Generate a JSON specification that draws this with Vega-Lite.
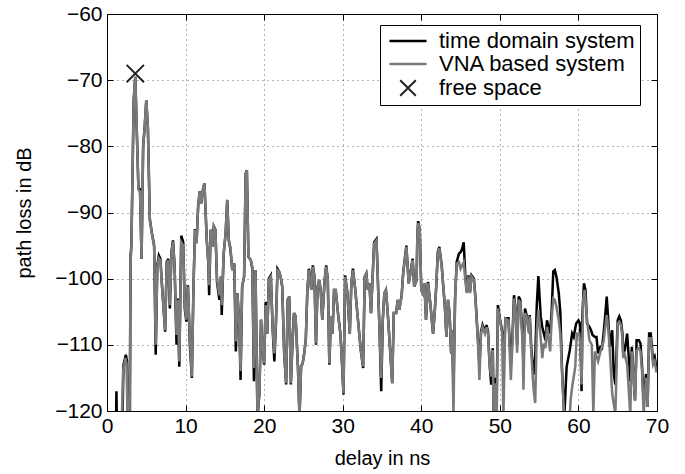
{
  "$schema": "https://vega.github.io/schema/vega-lite/v6.json",
  "width": 550,
  "height": 397,
  "autosize": {"type": "none"},
  "padding": {"left": 107, "top": 14, "right": 28, "bottom": 63},
  "config": {
    "view": {"stroke": "#000", "strokeWidth": 1},
    "font": "Liberation Sans",
    "axis": {"labelColor": "#000", "titleColor": "#000", "tickColor": "#000", "labelFont": "Liberation Sans", "titleFont": "Liberation Sans"}
  },
  "datasets": {
    "td": [
      {"t":1.1,"pl":-125},{"t":1.2,"pl":-117},{"t":1.3,"pl":-125},{"t":1.9,"pl":-125},{"t":2.1,"pl":-113},{"t":2.4,"pl":-111.5},{"t":2.55,"pl":-112.5},{"t":2.7,"pl":-125},{"t":2.9,"pl":-125},{"t":3.0,"pl":-96.5},
      {"t":3.1,"pl":-95},{"t":3.4,"pl":-73},{"t":3.6,"pl":-69.5},{"t":3.8,"pl":-78},{"t":4.0,"pl":-86.3},{"t":4.2,"pl":-86.5},{"t":4.4,"pl":-97},{"t":4.6,"pl":-80},{"t":4.8,"pl":-77},{"t":5.0,"pl":-73},{"t":5.2,"pl":-77},{"t":5.45,"pl":-91},{"t":5.7,"pl":-93},{"t":6.0,"pl":-95},{"t":6.2,"pl":-111.5},{"t":6.4,"pl":-98},{"t":6.6,"pl":-96.5},{"t":6.8,"pl":-97},{"t":7.0,"pl":-101},{"t":7.4,"pl":-108},{"t":7.6,"pl":-97.5},{"t":7.8,"pl":-97},{"t":8.0,"pl":-104.5},{"t":8.2,"pl":-96},{"t":8.4,"pl":-94.2},{"t":8.6,"pl":-98},{"t":8.85,"pl":-110},{"t":9.0,"pl":-103},{"t":9.2,"pl":-113.3},{"t":9.45,"pl":-93.5},{"t":9.7,"pl":-94.5},{"t":9.9,"pl":-104.5},
      {"t":10.1,"pl":-106.5},{"t":10.3,"pl":-101},{"t":10.55,"pl":-110},{"t":10.8,"pl":-115},{"t":11.0,"pl":-101.5},{"t":11.2,"pl":-92.5},{"t":11.4,"pl":-94.5},{"t":11.6,"pl":-89},{"t":11.8,"pl":-86.8},{"t":12.0,"pl":-88.6},{"t":12.2,"pl":-86.6},{"t":12.4,"pl":-85.6},{"t":12.7,"pl":-94.2},{"t":12.9,"pl":-97.7},{"t":13.0,"pl":-102.5},{"t":13.2,"pl":-92.6},{"t":13.4,"pl":-95.2},{"t":13.6,"pl":-92.1},{"t":13.8,"pl":-92.6},{"t":14.0,"pl":-100.5},{"t":14.3,"pl":-103.2},{"t":14.5,"pl":-99.7},{"t":14.6,"pl":-105.5},{"t":14.85,"pl":-96.2},{"t":15.1,"pl":-93.1},{"t":15.3,"pl":-88.1},{"t":15.5,"pl":-94.2},{"t":15.7,"pl":-95.5},{"t":15.95,"pl":-98.7},{"t":16.2,"pl":-97.7},{"t":16.4,"pl":-111},{"t":16.6,"pl":-102.2},{"t":16.85,"pl":-107.3},{"t":17.0,"pl":-115.3},{"t":17.2,"pl":-101.2},{"t":17.45,"pl":-99.7},{"t":17.65,"pl":-84.1},{"t":17.8,"pl":-83.6},{"t":18.0,"pl":-96.7},{"t":18.3,"pl":-97.2},{"t":18.5,"pl":-98.5},{"t":18.7,"pl":-115.5},{"t":18.9,"pl":-98.7},{"t":19.15,"pl":-121},{"t":19.4,"pl":-117.3},{"t":19.6,"pl":-106.2},{"t":19.8,"pl":-110.5},
      {"t":20.0,"pl":-113},{"t":20.2,"pl":-103.5},{"t":20.4,"pl":-108.3},{"t":20.6,"pl":-100},{"t":20.85,"pl":-99.5},{"t":21.1,"pl":-108},{"t":21.3,"pl":-112.5},{"t":21.5,"pl":-106.8},{"t":21.7,"pl":-98.5},{"t":21.9,"pl":-98.9},{"t":22.1,"pl":-99.7},{"t":22.3,"pl":-101.2},{"t":22.55,"pl":-111.3},{"t":22.8,"pl":-116},{"t":23.0,"pl":-103.2},{"t":23.2,"pl":-102.7},{"t":23.4,"pl":-116},{"t":23.6,"pl":-109.8},{"t":23.8,"pl":-105.2},{"t":24.0,"pl":-105.7},{"t":24.3,"pl":-113.3},{"t":24.5,"pl":-121},{"t":24.7,"pl":-113.3},{"t":24.9,"pl":-112.8},{"t":25.1,"pl":-111.3},{"t":25.3,"pl":-109.3},{"t":25.5,"pl":-101.7},{"t":25.7,"pl":-98.5},{"t":26.0,"pl":-101.7},{"t":26.2,"pl":-98},{"t":26.4,"pl":-99.7},{"t":26.6,"pl":-110},{"t":26.8,"pl":-101.2},{"t":27.0,"pl":-100.2},{"t":27.2,"pl":-101.7},{"t":27.4,"pl":-106.2},{"t":27.7,"pl":-100.2},{"t":27.9,"pl":-98},{"t":28.1,"pl":-100.2},{"t":28.3,"pl":-113},{"t":28.5,"pl":-105.7},{"t":28.7,"pl":-108.3},{"t":28.9,"pl":-101.7},{"t":29.1,"pl":-101.7},{"t":29.4,"pl":-105.2},{"t":29.7,"pl":-108.3},{"t":29.85,"pl":-111.3},
      {"t":30.1,"pl":-117.5},{"t":30.3,"pl":-99.5},{"t":30.6,"pl":-102.2},{"t":30.9,"pl":-108.3},{"t":31.1,"pl":-100.7},{"t":31.3,"pl":-98.5},{"t":31.6,"pl":-101.7},{"t":31.9,"pl":-105.7},{"t":32.3,"pl":-110.8},{"t":32.6,"pl":-113.5},{"t":32.8,"pl":-99.7},{"t":33.0,"pl":-99.2},{"t":33.2,"pl":-101.7},{"t":33.4,"pl":-100.7},{"t":33.6,"pl":-105.2},{"t":34.0,"pl":-94.5},{"t":34.3,"pl":-94},{"t":34.7,"pl":-108.3},{"t":34.9,"pl":-117},{"t":35.1,"pl":-106.2},{"t":35.3,"pl":-102.2},{"t":35.5,"pl":-101.7},{"t":35.7,"pl":-104.7},{"t":35.9,"pl":-108.3},{"t":36.3,"pl":-115.8},{"t":36.5,"pl":-105.2},{"t":36.8,"pl":-105.2},{"t":37.0,"pl":-103.2},{"t":37.2,"pl":-104.7},{"t":37.5,"pl":-102.5},{"t":37.7,"pl":-99},{"t":37.9,"pl":-97},{"t":38.1,"pl":-95},{"t":38.4,"pl":-100.7},{"t":38.7,"pl":-98.5},{"t":38.9,"pl":-97},{"t":39.1,"pl":-101.2},{"t":39.4,"pl":-100.2},{"t":39.5,"pl":-93.5},{"t":39.6,"pl":-91.3},{"t":39.8,"pl":-92.6},
      {"t":40.0,"pl":-101.7},{"t":40.2,"pl":-102.2},{"t":40.4,"pl":-100.7},{"t":40.6,"pl":-106.2},{"t":40.85,"pl":-100.5},{"t":41.1,"pl":-103.2},{"t":41.3,"pl":-105.7},{"t":41.5,"pl":-108.3},{"t":41.7,"pl":-105.2},{"t":41.9,"pl":-101.2},{"t":42.1,"pl":-96},{"t":42.3,"pl":-95.2},{"t":42.6,"pl":-98},{"t":42.8,"pl":-101.2},{"t":43.0,"pl":-104.2},{"t":43.2,"pl":-108.8},{"t":43.4,"pl":-103.2},{"t":43.6,"pl":-105.2},{"t":43.8,"pl":-111.3},{"t":43.9,"pl":-107.8},{"t":44.1,"pl":-116.3},
      {"t":44.3,"pl":-103},{"t":44.5,"pl":-97.5},{"t":44.8,"pl":-96.2},{"t":45.0,"pl":-96},{"t":45.2,"pl":-95.5},{"t":45.4,"pl":-94.5},{"t":45.6,"pl":-99.5},{"t":45.8,"pl":-102},{"t":46.0,"pl":-99.5},{"t":46.2,"pl":-102},{"t":46.4,"pl":-99.5},{"t":46.7,"pl":-100},{"t":46.9,"pl":-103},{"t":47.2,"pl":-109},{"t":47.4,"pl":-113},{"t":47.6,"pl":-108},{"t":47.8,"pl":-107},{"t":48.1,"pl":-108},{"t":48.3,"pl":-107},{"t":48.5,"pl":-108},{"t":48.7,"pl":-113},{"t":48.9,"pl":-116},{"t":49.1,"pl":-110.5},{"t":49.2,"pl":-120.5},{"t":49.4,"pl":-115},{"t":49.6,"pl":-118},{"t":49.75,"pl":-104},
      {"t":50.0,"pl":-106},{"t":50.3,"pl":-108},{"t":50.5,"pl":-112.5},{"t":50.7,"pl":-106},{"t":51.1,"pl":-106},{"t":51.4,"pl":-113},{"t":51.6,"pl":-109},{"t":51.8,"pl":-102.5},{"t":52.0,"pl":-104.5},{"t":52.2,"pl":-110},{"t":52.4,"pl":-102.7},{"t":52.6,"pl":-103.2},{"t":52.9,"pl":-109},{"t":53.0,"pl":-113},{"t":53.2,"pl":-104.5},{"t":53.4,"pl":-105.5},{"t":53.7,"pl":-108},{"t":53.8,"pl":-105.5},{"t":54.0,"pl":-110.5},{"t":54.3,"pl":-114.5},{"t":54.5,"pl":-112},{"t":54.7,"pl":-104},{"t":54.9,"pl":-99.6},{"t":55.2,"pl":-105.7},{"t":55.4,"pl":-107.3},{"t":55.6,"pl":-108.3},{"t":55.8,"pl":-109.3},{"t":56.0,"pl":-106.3},{"t":56.4,"pl":-108.3},{"t":56.6,"pl":-104.7},{"t":56.8,"pl":-98.9},{"t":57.0,"pl":-98.7},{"t":57.2,"pl":-99.7},{"t":57.5,"pl":-102.2},{"t":57.7,"pl":-105.2},{"t":57.9,"pl":-113.3},{"t":58.2,"pl":-121},{"t":58.5,"pl":-113.3},{"t":58.9,"pl":-110.8},{"t":59.2,"pl":-108.3},{"t":59.4,"pl":-108.8},{"t":59.7,"pl":-106.8},
      {"t":60.0,"pl":-106.3},{"t":60.2,"pl":-106.8},{"t":60.4,"pl":-117},{"t":60.5,"pl":-105.7},{"t":60.7,"pl":-100.7},{"t":60.9,"pl":-101.7},{"t":61.1,"pl":-106.8},{"t":61.4,"pl":-107.3},{"t":61.6,"pl":-107.8},{"t":61.8,"pl":-108.5},{"t":62.1,"pl":-108.8},{"t":62.3,"pl":-108.8},{"t":62.5,"pl":-111.3},{"t":62.8,"pl":-110.3},{"t":63.0,"pl":-110.5},{"t":63.2,"pl":-108.3},{"t":63.4,"pl":-105.7},{"t":63.6,"pl":-102.7},{"t":63.8,"pl":-106.3},{"t":64.0,"pl":-110.3},{"t":64.3,"pl":-107.8},{"t":64.5,"pl":-114.4},{"t":64.7,"pl":-116},{"t":65.0,"pl":-106.3},{"t":65.2,"pl":-105.7},{"t":65.4,"pl":-106.3},{"t":65.6,"pl":-108.3},{"t":65.7,"pl":-111.2},{"t":65.9,"pl":-110.8},{"t":66.2,"pl":-108.3},{"t":66.4,"pl":-111.8},{"t":66.6,"pl":-115.5},{"t":66.8,"pl":-110.3},{"t":67.0,"pl":-114.4},{"t":67.2,"pl":-118.4},{"t":67.4,"pl":-109.3},{"t":67.7,"pl":-109.3},{"t":67.9,"pl":-109.8},{"t":68.1,"pl":-113.3},{"t":68.3,"pl":-118.8},{"t":68.6,"pl":-114.4},{"t":68.8,"pl":-119.4},{"t":69.0,"pl":-108.3},{"t":69.2,"pl":-108.3},{"t":69.5,"pl":-112.3},{"t":69.7,"pl":-111.8},{"t":69.9,"pl":-113.3},{"t":70.0,"pl":-113.3}
    ],
    "vna": [
      {"t":1.8,"pl":-125},{"t":2.05,"pl":-114},{"t":2.35,"pl":-112},{"t":2.5,"pl":-113},{"t":2.65,"pl":-125},{"t":2.85,"pl":-125},{"t":3.0,"pl":-97.5},{"t":3.1,"pl":-95.5},{"t":3.4,"pl":-73},{"t":3.6,"pl":-69.5},{"t":3.8,"pl":-78},{"t":4.0,"pl":-86.6},{"t":4.2,"pl":-86.8},{"t":4.4,"pl":-96.9},{"t":4.6,"pl":-80},{"t":4.8,"pl":-77},{"t":5.0,"pl":-73},{"t":5.2,"pl":-77},{"t":5.45,"pl":-91.1},{"t":5.7,"pl":-93.1},{"t":6.0,"pl":-95.2},{"t":6.2,"pl":-110},{"t":6.4,"pl":-98.2},{"t":6.6,"pl":-96.9},{"t":6.8,"pl":-97.2},{"t":7.0,"pl":-101.2},{"t":7.4,"pl":-107.8},{"t":7.6,"pl":-97.7},{"t":7.8,"pl":-97.2},{"t":8.0,"pl":-104},{"t":8.2,"pl":-96.2},{"t":8.4,"pl":-94.4},{"t":8.6,"pl":-98.2},{"t":8.85,"pl":-108.5},{"t":9.0,"pl":-103.2},{"t":9.2,"pl":-112.5},{"t":9.45,"pl":-94.5},{"t":9.7,"pl":-95},{"t":9.9,"pl":-104.2},
      {"t":10.1,"pl":-106.2},{"t":10.3,"pl":-101.2},{"t":10.55,"pl":-109},{"t":10.8,"pl":-114.8},{"t":11.0,"pl":-101.7},{"t":11.2,"pl":-92.6},{"t":11.4,"pl":-94.7},{"t":11.6,"pl":-89.1},{"t":11.8,"pl":-86.8},{"t":12.0,"pl":-88.6},{"t":12.2,"pl":-86.6},{"t":12.4,"pl":-85.6},{"t":12.7,"pl":-94.2},{"t":12.9,"pl":-97.7},{"t":13.0,"pl":-101},{"t":13.2,"pl":-92.6},{"t":13.4,"pl":-95.2},{"t":13.6,"pl":-92.1},{"t":13.8,"pl":-92.6},{"t":14.0,"pl":-100.2},{"t":14.3,"pl":-102.5},{"t":14.5,"pl":-99.7},{"t":14.6,"pl":-104},{"t":14.85,"pl":-96.2},{"t":15.1,"pl":-93.1},{"t":15.3,"pl":-88.1},{"t":15.5,"pl":-94.2},{"t":15.7,"pl":-95.2},{"t":15.95,"pl":-98.7},{"t":16.2,"pl":-97.7},{"t":16.4,"pl":-109.5},{"t":16.6,"pl":-102.2},{"t":16.85,"pl":-107.3},{"t":17.0,"pl":-114},{"t":17.2,"pl":-101.2},{"t":17.45,"pl":-99.7},{"t":17.65,"pl":-84.1},{"t":17.8,"pl":-83.6},{"t":18.0,"pl":-96.7},{"t":18.3,"pl":-97.2},{"t":18.5,"pl":-98.2},{"t":18.7,"pl":-113.5},{"t":18.9,"pl":-98.7},{"t":19.15,"pl":-120.5},{"t":19.4,"pl":-117.3},{"t":19.6,"pl":-106.2},{"t":19.8,"pl":-110.3},
      {"t":20.0,"pl":-112.8},{"t":20.2,"pl":-104},{"t":20.4,"pl":-108.3},{"t":20.6,"pl":-100.2},{"t":20.85,"pl":-99.7},{"t":21.1,"pl":-107.8},{"t":21.3,"pl":-111.3},{"t":21.5,"pl":-106.8},{"t":21.7,"pl":-98.7},{"t":21.9,"pl":-98.9},{"t":22.1,"pl":-99.7},{"t":22.3,"pl":-101.2},{"t":22.55,"pl":-111.3},{"t":22.8,"pl":-115.8},{"t":23.0,"pl":-103.2},{"t":23.2,"pl":-102.7},{"t":23.4,"pl":-115.8},{"t":23.6,"pl":-109.8},{"t":23.8,"pl":-105.2},{"t":24.0,"pl":-105.7},{"t":24.3,"pl":-113.3},{"t":24.5,"pl":-121},{"t":24.7,"pl":-113.3},{"t":24.9,"pl":-112.8},{"t":25.1,"pl":-111.3},{"t":25.3,"pl":-109.3},{"t":25.5,"pl":-101.7},{"t":25.7,"pl":-98.7},{"t":26.0,"pl":-101.7},{"t":26.2,"pl":-98.2},{"t":26.4,"pl":-99.7},{"t":26.6,"pl":-109.8},{"t":26.8,"pl":-101.2},{"t":27.0,"pl":-100.2},{"t":27.2,"pl":-101.7},{"t":27.4,"pl":-106.2},{"t":27.7,"pl":-100.2},{"t":27.9,"pl":-98.2},{"t":28.1,"pl":-100.2},{"t":28.3,"pl":-112.8},{"t":28.5,"pl":-105.7},{"t":28.7,"pl":-108.3},{"t":28.9,"pl":-101.7},{"t":29.1,"pl":-101.7},{"t":29.4,"pl":-105.2},{"t":29.7,"pl":-108.3},{"t":29.85,"pl":-111.3},
      {"t":30.1,"pl":-117.3},{"t":30.3,"pl":-99.7},{"t":30.6,"pl":-102.2},{"t":30.9,"pl":-108.3},{"t":31.1,"pl":-100.7},{"t":31.3,"pl":-98.7},{"t":31.6,"pl":-101.7},{"t":31.9,"pl":-105.7},{"t":32.3,"pl":-110.8},{"t":32.6,"pl":-113.3},{"t":32.8,"pl":-99.7},{"t":33.0,"pl":-99.2},{"t":33.2,"pl":-101.7},{"t":33.4,"pl":-100.7},{"t":33.6,"pl":-105.2},{"t":34.0,"pl":-94.7},{"t":34.3,"pl":-94.2},{"t":34.7,"pl":-108.3},{"t":34.9,"pl":-115},{"t":35.1,"pl":-106.2},{"t":35.3,"pl":-102.2},{"t":35.5,"pl":-101.7},{"t":35.7,"pl":-104.7},{"t":35.9,"pl":-108.3},{"t":36.3,"pl":-115.8},{"t":36.5,"pl":-105.2},{"t":36.8,"pl":-105.2},{"t":37.0,"pl":-103.2},{"t":37.2,"pl":-104.7},{"t":37.5,"pl":-102.7},{"t":37.7,"pl":-99.2},{"t":37.9,"pl":-97.2},{"t":38.1,"pl":-95.2},{"t":38.4,"pl":-100.7},{"t":38.7,"pl":-98.7},{"t":38.9,"pl":-97.2},{"t":39.1,"pl":-101.2},{"t":39.4,"pl":-100.2},{"t":39.5,"pl":-93.7},{"t":39.6,"pl":-91.6},{"t":39.8,"pl":-92.6},
      {"t":40.0,"pl":-101.7},{"t":40.2,"pl":-102.2},{"t":40.4,"pl":-100.7},{"t":40.6,"pl":-106.2},{"t":40.85,"pl":-100.7},{"t":41.1,"pl":-103.2},{"t":41.3,"pl":-105.7},{"t":41.5,"pl":-108.3},{"t":41.7,"pl":-105.2},{"t":41.9,"pl":-101.2},{"t":42.1,"pl":-96.2},{"t":42.3,"pl":-95.4},{"t":42.6,"pl":-98.2},{"t":42.8,"pl":-101.2},{"t":43.0,"pl":-104.2},{"t":43.2,"pl":-108.8},{"t":43.4,"pl":-103.2},{"t":43.6,"pl":-105.2},{"t":43.8,"pl":-111.3},{"t":43.9,"pl":-107.8},{"t":44.1,"pl":-120.5},{"t":44.3,"pl":-103.2},{"t":44.5,"pl":-97.7},{"t":44.8,"pl":-97.5},{"t":45.0,"pl":-98.5},{"t":45.2,"pl":-98},{"t":45.4,"pl":-97.5},{"t":45.6,"pl":-100.2},{"t":45.8,"pl":-102.2},{"t":46.0,"pl":-99.7},{"t":46.2,"pl":-102.2},{"t":46.4,"pl":-99.7},{"t":46.7,"pl":-100.2},{"t":46.9,"pl":-103.2},{"t":47.2,"pl":-109.3},{"t":47.4,"pl":-115.3},{"t":47.6,"pl":-108.3},{"t":47.8,"pl":-107.3},{"t":48.1,"pl":-108.3},{"t":48.3,"pl":-107.3},{"t":48.5,"pl":-108.3},{"t":48.7,"pl":-113.3},{"t":48.9,"pl":-114.8},{"t":49.1,"pl":-110.8},{"t":49.2,"pl":-121},{"t":49.4,"pl":-115.8},{"t":49.6,"pl":-121},{"t":49.75,"pl":-104.5},
      {"t":50.0,"pl":-106.2},{"t":50.3,"pl":-108.3},{"t":50.45,"pl":-121},{"t":50.7,"pl":-106},{"t":51.1,"pl":-106.3},{"t":51.4,"pl":-115.3},{"t":51.6,"pl":-109.8},{"t":51.8,"pl":-103},{"t":52.0,"pl":-104.7},{"t":52.2,"pl":-111.2},{"t":52.4,"pl":-103.2},{"t":52.6,"pl":-103.7},{"t":52.9,"pl":-109.8},{"t":53.0,"pl":-116.8},{"t":53.2,"pl":-105.2},{"t":53.4,"pl":-105.7},{"t":53.7,"pl":-108.3},{"t":53.8,"pl":-105.7},{"t":54.0,"pl":-111.3},{"t":54.3,"pl":-116.8},{"t":54.5,"pl":-118.8},{"t":54.7,"pl":-108},{"t":54.9,"pl":-104.7},{"t":55.2,"pl":-109},{"t":55.4,"pl":-112},{"t":55.6,"pl":-109.8},{"t":55.8,"pl":-110.5},{"t":56.0,"pl":-107.3},{"t":56.4,"pl":-111},{"t":56.6,"pl":-106},{"t":56.8,"pl":-103},{"t":57.0,"pl":-103.2},{"t":57.2,"pl":-104.2},{"t":57.5,"pl":-106.3},{"t":57.7,"pl":-108.3},{"t":57.9,"pl":-114},{"t":58.2,"pl":-121},{"t":58.9,"pl":-121},{"t":59.0,"pl":-118.4},{"t":59.2,"pl":-116.4},{"t":59.6,"pl":-113.3},{"t":59.8,"pl":-108.3},
      {"t":60.1,"pl":-108.3},{"t":60.3,"pl":-111},{"t":60.4,"pl":-116},{"t":60.6,"pl":-103.2},{"t":60.8,"pl":-101.7},{"t":61.1,"pl":-106.3},{"t":61.4,"pl":-109.3},{"t":61.7,"pl":-110},{"t":61.9,"pl":-120.5},{"t":62.1,"pl":-111},{"t":62.5,"pl":-112.5},{"t":62.8,"pl":-111},{"t":63.2,"pl":-109.5},{"t":63.6,"pl":-105.5},{"t":63.8,"pl":-107.5},{"t":64.0,"pl":-111},{"t":64.3,"pl":-117.4},{"t":64.7,"pl":-120.5},{"t":65.0,"pl":-106.8},{"t":65.2,"pl":-106.5},{"t":65.4,"pl":-107},{"t":65.6,"pl":-109},{"t":65.7,"pl":-112},{"t":65.9,"pl":-111.5},{"t":66.2,"pl":-113},{"t":66.6,"pl":-120.5},{"t":66.8,"pl":-111},{"t":67.0,"pl":-114.4},{"t":67.2,"pl":-118.4},{"t":67.4,"pl":-110.8},{"t":67.7,"pl":-110.5},{"t":67.9,"pl":-111},{"t":68.1,"pl":-114},{"t":68.3,"pl":-120.5},{"t":68.6,"pl":-115},{"t":68.8,"pl":-119.4},{"t":69.0,"pl":-109},{"t":69.2,"pl":-109},{"t":69.5,"pl":-113},{"t":69.7,"pl":-112.5},{"t":69.9,"pl":-114},{"t":70.0,"pl":-114}
    ],
    "fs": [{"t": 3.6, "pl": -69}]
  },
  "resolve": {"axis": {"x": "independent", "y": "independent"}},
  "layer": [
    {
      "data": {"name": "td"},
      "transform": [{"calculate": "'time domain system'", "as": "series"}],
      "mark": {"type": "line", "strokeWidth": 2.5, "clip": true, "interpolate": "linear"},
      "encoding": {
        "x": {"field": "t", "type": "quantitative", "scale": {"domain": [0, 70], "nice": false, "zero": false},
          "axis": {"values": [0,10,20,30,40,50,60,70], "title": "delay in ns", "grid": true, "gridDash": [1,4], "gridColor": "#000", "gridOpacity": 0.6, "domain": false, "tickSize": -6, "labelFontSize": 21, "labelPadding": 10, "labelFlush": false, "titleFontSize": 20, "titleFontWeight": "normal", "titlePadding": 12}},
        "y": {"field": "pl", "type": "quantitative", "scale": {"domain": [-120, -60], "nice": false, "zero": false},
          "axis": {"values": [-120,-110,-100,-90,-80,-70,-60], "title": "path loss in dB", "grid": true, "gridDash": [1,4], "gridColor": "#000", "gridOpacity": 0.6, "domain": false, "tickSize": -6, "labelFontSize": 21, "labelPadding": 11, "labelFlush": false, "titleFontSize": 20, "titleFontWeight": "normal", "titlePadding": 20}},
        "color": {"field": "series", "type": "nominal",
          "scale": {"domain": ["time domain system", "VNA based system", "free space"], "range": ["#000000", "#7a7a7a", "#222222"]},
          "legend": {"title": null, "orient": "none", "legendX": 273, "legendY": 11, "strokeColor": "#000", "fillColor": "#fff", "padding": 5, "symbolOffset": 12, "labelOffset": 20, "labelFontSize": 22, "labelFont": "Liberation Sans", "labelColor": "#000", "labelLimit": 400, "symbolSize": 1369, "symbolStrokeWidth": 2.5, "rowPadding": 1, "symbolType": "stroke",
            "encode": {"symbols": {"update": {"shape": {"signal": "datum.value === 'free space' ? 'M-0.42,-0.42L0.42,0.42M-0.42,0.42L0.42,-0.42' : 'stroke'"}, "strokeWidth": {"signal": "datum.value === 'free space' ? 2 : 2.5"}}}}}}
      }
    },
    {
      "data": {"name": "vna"},
      "transform": [{"calculate": "'VNA based system'", "as": "series"}],
      "mark": {"type": "line", "strokeWidth": 2.5, "clip": true},
      "encoding": {
        "x": {"field": "t", "type": "quantitative", "axis": null},
        "y": {"field": "pl", "type": "quantitative", "axis": null},
        "color": {"field": "series", "type": "nominal"}
      }
    },
    {
      "data": {"name": "fs"},
      "transform": [{"calculate": "'free space'", "as": "series"}],
      "mark": {"type": "point", "shape": "M-1,-1L1,1M-1,1L1,-1", "filled": false, "size": 300, "strokeWidth": 2, "opacity": 1},
      "encoding": {
        "x": {"field": "t", "type": "quantitative", "axis": {"orient": "top", "values": [0,10,20,30,40,50,60,70], "labels": false, "grid": false, "domain": false, "tickSize": -6, "title": null}},
        "y": {"field": "pl", "type": "quantitative", "axis": {"orient": "right", "values": [-120,-110,-100,-90,-80,-70,-60], "labels": false, "grid": false, "domain": false, "tickSize": -6, "title": null}},
        "color": {"field": "series", "type": "nominal"}
      }
    }
  ]
}
